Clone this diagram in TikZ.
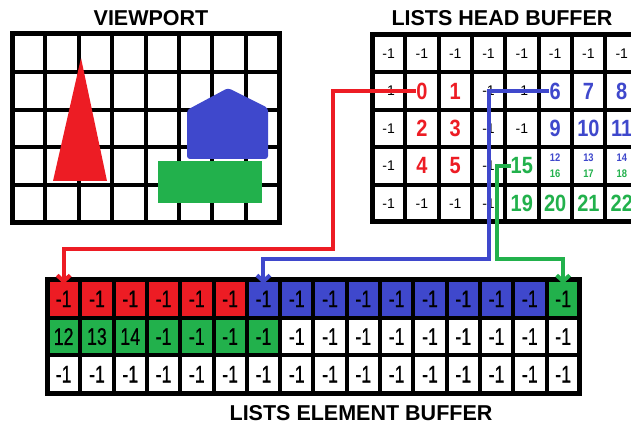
\documentclass[tikz,border=0pt]{standalone}
\usepackage{fontspec}
\setmainfont{Liberation Sans}
\newfontfamily\numfont[FakeStretch=0.85]{Liberation Sans}
\newfontfamily\elemfont[FakeStretch=0.74,FakeBold=0.6]{Liberation Sans}
\usetikzlibrary{arrows.meta}
\definecolor{pred}{HTML}{ED1C24}
\definecolor{pblue}{HTML}{3F48CC}
\definecolor{pgreen}{HTML}{22B14C}

\begin{document}
\begin{tikzpicture}[x=1pt,y=-1pt,
  title/.style={font=\bfseries\fontsize{21.5}{22}\selectfont, inner sep=0pt},
  gridline/.style={line width=4pt, line cap=rect},
  frame/.style={line width=5pt},
  hcell/.style={draw=black, fill=white, line width=4pt, minimum width=33.3pt,
    minimum height=37.4pt, inner sep=0pt, outer sep=0pt},
  ecell/.style={draw=black, line width=4pt, minimum width=33.3pt,
    minimum height=37.7pt, inner sep=0pt, outer sep=0pt,
    font=\elemfont\fontsize{24}{24}\selectfont},
  txt-n/.style={font=\fontsize{14}{14}\selectfont, inner sep=0pt},
  bignum/.style={font=\numfont\bfseries\fontsize{23.5}{24}\selectfont, inner sep=0pt},
  txt-r/.style={bignum, text=pred},
  txt-b/.style={bignum, text=pblue},
  txt-g/.style={bignum, text=pgreen},
  txt-small/.style={font=\numfont\bfseries\fontsize{11}{16}\selectfont,
    align=center, inner sep=0pt},
  link/.style={line width=4pt, -{Straight Barb[length=6pt,width=13pt]},
    shorten >=-4pt},
]
\useasboundingbox (0,0) rectangle (631,427);
\clip (0,0) rectangle (631,427);

% ---------- titles ----------
\node[title] (vp-title) at (151,18) {VIEWPORT};
\node[title] (hb-title) at (502,18) {LISTS HEAD BUFFER};
\node[title] (eb-title) at (361,413) {LISTS ELEMENT BUFFER};

% ---------- viewport ----------
\foreach \i in {0,...,8}
  \draw[gridline] ({12+33.4*\i},34) -- ({12+33.4*\i},223);
\foreach \j in {0,...,5}
  \draw[gridline] (12,{34+37.8*\j}) -- (279,{34+37.8*\j});
\draw[frame] (12,34) rectangle (279,223);
\fill[pred] (81,58) -- (107,181) -- (53,181) -- cycle;
\fill[pblue, rounded corners=3pt] (228,88) -- (268,108) -- (268,159)
  -- (187,159) -- (187,110) -- cycle;
\fill[pgreen] (158,161) rectangle (262,203);

% ---------- lists head buffer ----------
\foreach \r in {0,...,4}
  \foreach \c in {0,...,8}
    \node[hcell] (h-\r-\c) at ({372+33.3*(\c+0.5)},{35+37.4*(\r+0.5)}) {};
\draw[frame] (h-0-0.north west) rectangle (h-4-8.south east);

\foreach \t/\s [count=\c from 0] in {-1/n,-1/n,-1/n,-1/n,-1/n,-1/n,-1/n,-1/n}
  \node[txt-\s] (t-0-\c) at (h-0-\c) {\t};
\foreach \t/\s [count=\c from 0] in {-1/n,0/r,1/r,-1/n,-1/n,6/b,7/b,8/b}
  \node[txt-\s] (t-1-\c) at (h-1-\c) {\t};
\foreach \t/\s [count=\c from 0] in {-1/n,2/r,3/r,-1/n,-1/n,9/b,10/b,11/b}
  \node[txt-\s] (t-2-\c) at (h-2-\c) {\t};
\foreach \t/\s [count=\c from 0] in {-1/n,4/r,5/r,-1/n,15/g}
  \node[txt-\s] (t-3-\c) at (h-3-\c) {\t};
\node[txt-small] (t-3-5) at (h-3-5) {\textcolor{pblue}{12}\\\textcolor{pgreen}{16}};
\node[txt-small] (t-3-6) at (h-3-6) {\textcolor{pblue}{13}\\\textcolor{pgreen}{17}};
\node[txt-small] (t-3-7) at (h-3-7) {\textcolor{pblue}{14}\\\textcolor{pgreen}{18}};
\foreach \t/\s [count=\c from 0] in {-1/n,-1/n,-1/n,-1/n,19/g,20/g,21/g,22/g}
  \node[txt-\s] (t-4-\c) at (h-4-\c) {\t};

% ---------- lists element buffer ----------
\foreach \t/\f [count=\c from 0] in {-1/pred,-1/pred,-1/pred,-1/pred,-1/pred,-1/pred,
    -1/pblue,-1/pblue,-1/pblue,-1/pblue,-1/pblue,-1/pblue,-1/pblue,-1/pblue,-1/pblue,
    -1/pgreen}
  \node[ecell, fill=\f] (e-0-\c) at ({47+33.3*(\c+0.5)},{280+37.7*0.5}) {\t};
\foreach \t/\f [count=\c from 0] in {12/pgreen,13/pgreen,14/pgreen,-1/pgreen,-1/pgreen,
    -1/pgreen,-1/pgreen,-1/white,-1/white,-1/white,-1/white,-1/white,-1/white,-1/white,
    -1/white,-1/white}
  \node[ecell, fill=\f] (e-1-\c) at ({47+33.3*(\c+0.5)},{280+37.7*1.5}) {\t};
\foreach \c in {0,...,15}
  \node[ecell, fill=white] (e-2-\c) at ({47+33.3*(\c+0.5)},{280+37.7*2.5}) {-1};
\draw[frame] (e-0-0.north west) rectangle (e-2-15.south east);

% ---------- links from list heads to list elements ----------
\coordinate (red-bend) at (333,249);
\coordinate (blue-bend) at (489,259);
\coordinate (green-bend) at (497,259);
\draw[link, pred] (t-1-1.west) -| (red-bend) -| (e-0-0.north);
\draw[link, pblue] (t-1-5.west) -| (blue-bend) -| (e-0-6.north);
\draw[link, pgreen] (t-3-4.west) -| (green-bend) -| (e-0-15.north);
\end{tikzpicture}
\end{document}
